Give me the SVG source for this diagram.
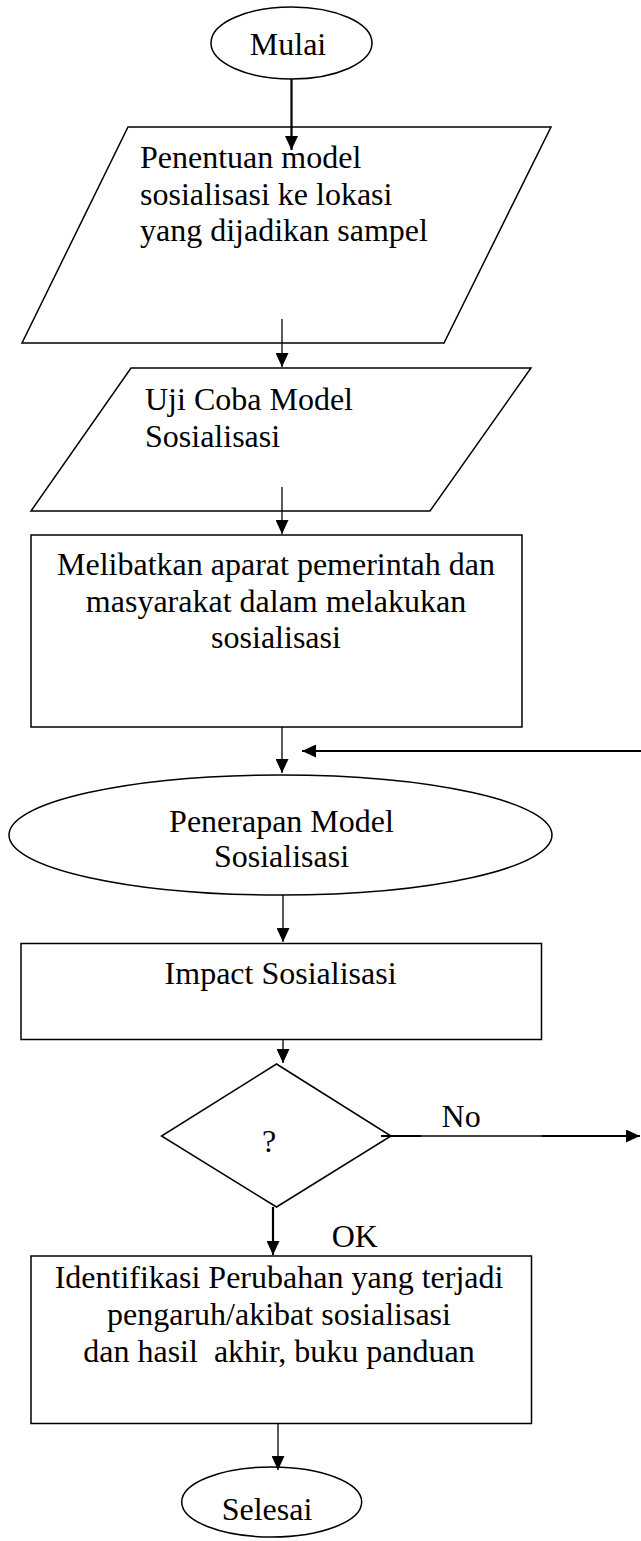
<svg xmlns="http://www.w3.org/2000/svg" width="641" height="1541" viewBox="0 0 641 1541">
<style>
.s{fill:#fff;stroke:#000;stroke-width:1.5}
.t{font-family:"Liberation Serif","Times New Roman",serif;font-size:32px;fill:#000;white-space:pre}
.m{text-anchor:middle}
.c{fill:none;stroke:#000;stroke-width:1.3}
.k{stroke-width:2.2}
</style>
<defs>
<marker id="ah" markerUnits="userSpaceOnUse" markerWidth="14" markerHeight="13" refX="14" refY="6.5" orient="auto">
<path d="M0,0 L14,6.5 L0,13 z" fill="#000"/>
</marker>
</defs>
<rect width="641" height="1541" fill="#fff"/>
<g id="mulai">
<ellipse class="s" cx="291.5" cy="43" rx="80.5" ry="36"/>
<text class="t m" x="288" y="55">Mulai</text>
</g>
<g id="penentuan">
<polygon class="s" points="128,127 551,127 444,343 22,343"/>
<text class="t" x="140" y="168">Penentuan model</text>
<text class="t" x="140" y="205">sosialisasi ke lokasi</text>
<text class="t" x="140" y="241">yang dijadikan sampel</text>
</g>
<g id="ujicoba">
<polygon class="s" points="131,368 531,368 430,511 31,511"/>
<text class="t" x="145" y="410">Uji Coba Model</text>
<text class="t" x="145" y="447">Sosialisasi</text>
</g>
<g id="melibatkan">
<rect class="s" x="31" y="535" width="491" height="192"/>
<text class="t m" x="276" y="575">Melibatkan aparat pemerintah dan</text>
<text class="t m" x="276" y="612">masyarakat dalam melakukan</text>
<text class="t m" x="276" y="648">sosialisasi</text>
</g>
<g id="penerapan">
<ellipse class="s" cx="280.5" cy="835" rx="271.5" ry="60"/>
<text class="t m" x="281.5" y="832">Penerapan Model</text>
<text class="t m" x="281.5" y="867">Sosialisasi</text>
</g>
<g id="impact">
<rect class="s" x="21" y="943.5" width="520.5" height="96"/>
<text class="t m" x="280.6" y="984">Impact Sosialisasi</text>
</g>
<g id="decision">
<polygon class="s" points="276.5,1064 391,1136 276.5,1207 161.5,1136"/>
<text class="t m" x="269" y="1152">?</text>
</g>
<g id="identifikasi">
<rect class="s" x="31" y="1256" width="500.5" height="167.5"/>
<text class="t m" x="279" y="1288">Identifikasi Perubahan yang terjadi</text>
<text class="t m" x="279" y="1325">pengaruh/akibat sosialisasi</text>
<text class="t m" x="279" y="1362">dan hasil  akhir, buku panduan</text>
</g>
<g id="selesai">
<ellipse class="s" cx="271.7" cy="1502" rx="90" ry="35"/>
<text class="t m" x="267" y="1520">Selesai</text>
</g>
<g id="connectors">
<line class="c k" x1="291.5" y1="79" x2="291.5" y2="150" marker-end="url(#ah)"/>
<line class="c" x1="282" y1="319" x2="282" y2="367" marker-end="url(#ah)"/>
<line class="c" x1="282" y1="487" x2="282" y2="534" marker-end="url(#ah)"/>
<line class="c" x1="282" y1="727" x2="282" y2="773" marker-end="url(#ah)"/>
<line class="c k" x1="641" y1="751" x2="302" y2="751" marker-end="url(#ah)"/>
<line class="c" x1="283" y1="895" x2="283" y2="942" marker-end="url(#ah)"/>
<line class="c" x1="283" y1="1040" x2="283" y2="1063" marker-end="url(#ah)"/>
<line class="c" x1="391" y1="1136" x2="542" y2="1136"/>
<line class="c k" x1="381" y1="1136" x2="421" y2="1136"/>
<line class="c k" x1="542" y1="1136" x2="640" y2="1136" marker-end="url(#ah)"/>
<line class="c k" x1="273" y1="1207" x2="273" y2="1255" marker-end="url(#ah)"/>
<line class="c" x1="278" y1="1423.5" x2="278" y2="1470" marker-end="url(#ah)"/>
</g>
<g id="labels">
<text class="t" x="441.6" y="1127">No</text>
<text class="t" x="331.7" y="1247">OK</text>
</g>
</svg>
